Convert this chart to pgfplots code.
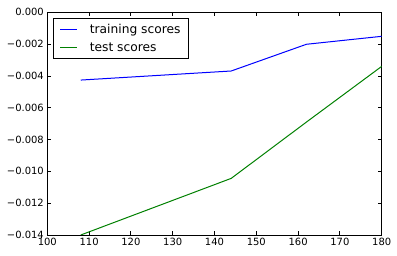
\documentclass[border=0pt]{standalone}
\usepackage{fontspec}
\setmainfont{DejaVu Sans}
\usepackage{pgfplots}
\pgfplotsset{compat=1.18}
\definecolor{mplblue}{rgb}{0,0,1}
\definecolor{mplgreen}{rgb}{0,0.5,0}
\begin{document}
\begin{tikzpicture}
\path[use as bounding box] (-47.3bp,-21bp) rectangle (349.7bp,235bp);
\begin{axis}[
  at={(0,0)}, anchor=south west,
  scale only axis, width=334.4bp, height=222.7bp,
  xmin=100, xmax=180, ymin=-0.014, ymax=0,
  xtick={100,110,...,180},
  ytick={-0.014,-0.012,-0.010,-0.008,-0.006,-0.004,-0.002,0},
  yticklabels={−0.014,−0.012,−0.010,−0.008,−0.006,−0.004,−0.002,0.000},
  /pgf/number format/assume math mode=true,
  scaled y ticks=false,
  tick align=inside, major tick length=4bp,
  tick style={black, line width=0.8bp},
  axis line style={black, line width=1bp},
  ticklabel style={font=\fontsize{10}{12}\selectfont},
  legend style={at={(0.018,0.974)}, anchor=north west, draw=black, line width=1bp,
    font=\fontsize{12.3}{14}\selectfont, legend cell align=left,
    inner xsep=6bp, inner ysep=3.5bp, row sep=4bp},
  legend image post style={line width=1bp},
]
\addplot[mplblue, line width=1bp] coordinates {(108,-0.00426) (144,-0.00369) (162,-0.00201) (180,-0.00151)};
\addlegendentry{\hspace{10bp}training scores}
\addplot[mplgreen, line width=1bp] coordinates {(108,-0.0140) (144,-0.01044) (162,-0.0069) (180,-0.0034)};
\addlegendentry{\hspace{10bp}test scores}
\end{axis}
\end{tikzpicture}
\end{document}
